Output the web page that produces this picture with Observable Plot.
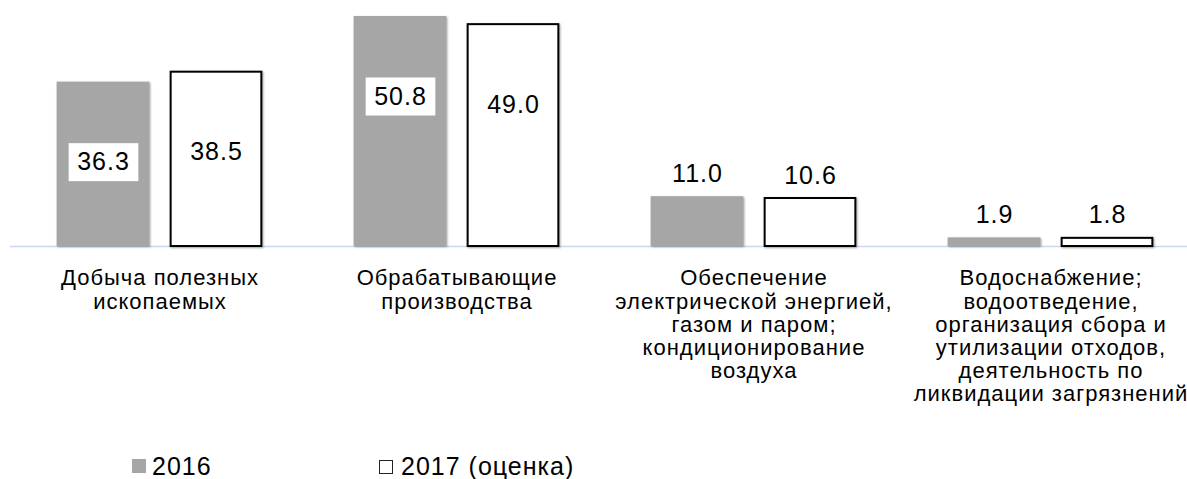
<!DOCTYPE html>
<html><head><meta charset="utf-8">
<script src="https://cdn.jsdelivr.net/npm/d3@7"></script>
<script src="https://cdn.jsdelivr.net/npm/@observablehq/plot@0.6"></script>
<style>
html,body{margin:0;padding:0;background:#fff;overflow:hidden;}
#wrap{position:relative;width:1187px;height:479px;font-family:"Liberation Sans",Arial,sans-serif;}
#wrap svg text{letter-spacing:1px;}
.legend{position:absolute;left:0;top:447px;width:1187px;height:32px;}
.legend .sw{position:absolute;width:14px;height:14px;box-sizing:border-box;}
.legend .lb{position:absolute;font-size:25px;line-height:25px;color:#000;white-space:nowrap;letter-spacing:1px;}
</style></head><body><div id="wrap"></div>
<script>
const categories = [
  "Добыча полезных\nископаемых",
  "Обрабатывающие\nпроизводства",
  "Обеспечение\nэлектрической энергией,\nгазом и паром;\nкондиционирование\nвоздуха",
  "Водоснабжение;\nводоотведение,\nорганизация сбора и\nутилизации отходов,\nдеятельность по\nликвидации загрязнений"
];
const seriesNames = ["2016", "2017 (оценка)"];
const values2016 = [36.3, 50.8, 11.0, 1.9];
const values2017 = [38.5, 49.0, 10.6, 1.8];

const rows = categories.flatMap((c, i) => [
  {category: c, series: seriesNames[0], value: values2016[i]},
  {category: c, series: seriesNames[1], value: values2017[i]}
]);

// layout (styles only)
const W = 1187, H = 447;
const xRange = [10.4, 1199.6];
const bw = (xRange[1] - xRange[0]) / categories.length;
const barW = 93, gap = 20;
const off = (bw - (2 * barW + gap)) / 2;
const shift = (barW + gap) / 2;
const gray = "#a6a6a6";
const fmt = d3.format(".1f");
const big = d => d.value > 20;

function labels(series, dx) {
  const s = d => d.series === series;
  return [
    Plot.text(rows, {filter: d => s(d) && big(d), x: "category", y: "value", text: d => fmt(d.value),
      dx, dy: 80, fontSize: 25, fill: "#000", lineAnchor: "middle"}),
    Plot.text(rows, {filter: d => s(d) && !big(d), x: "category", y: "value", text: d => fmt(d.value),
      dx, dy: -23, fontSize: 25, fill: "#000", lineAnchor: "middle"})
  ];
}

const plot = Plot.plot({
  width: W, height: H,
  marginTop: 16, marginBottom: H - 246, marginLeft: 10, marginRight: 0,
  style: {fontFamily: "'Liberation Sans', Arial, sans-serif", fontSize: "22px", background: "#fff", overflow: "visible"},
  x: {domain: categories, range: xRange, padding: 0, axis: null},
  y: {domain: [0, d3.max(rows, d => d.value)], axis: null},
  marks: [
    Plot.ruleY([0], {stroke: "#c6d9f1", strokeWidth: 1.5}),
    Plot.barY(rows, {filter: d => d.series === seriesNames[0], x: "category", y: "value",
      fill: gray, insetLeft: off, insetRight: bw - off - barW}),
    Plot.barY(rows, {filter: d => d.series === seriesNames[1], x: "category", y: "value",
      fill: "#fff", stroke: "#000", strokeWidth: 2,
      insetLeft: off + barW + gap + 1, insetRight: off + 1}),
    ...labels(seriesNames[0], -shift),
    ...labels(seriesNames[1], shift),
    Plot.text(categories, {x: d => d, y: () => 0, text: d => d, dy: 22.4, lineAnchor: "top",
      fontSize: 22, lineHeight: 23.2 / 22, fill: "#000"})
  ]
});
const wrap = document.getElementById("wrap");
wrap.appendChild(plot);

// subtle shadow on bars
new Set(Array.from(plot.querySelectorAll("rect")).map(r => r.parentNode)).forEach(g => {
  if (g !== plot) g.style.filter = "drop-shadow(1px 1.5px 1px rgba(0,0,0,0.35))";
});

// white boxes behind value labels
Array.from(plot.querySelectorAll("text")).filter(t => /^\d+\.\d$/.test(t.textContent.trim())).forEach(t => {
  const b = t.getBBox();
  const cx = b.x + b.width / 2, cy = b.y + b.height / 2 + 1;
  const r = document.createElementNS("http://www.w3.org/2000/svg", "rect");
  r.setAttribute("x", cx - b.width / 2 - 8.5);
  r.setAttribute("y", cy - 19);
  r.setAttribute("width", b.width + 17);
  r.setAttribute("height", 38);
  r.setAttribute("fill", "#fff");
  if (t.getAttribute("transform")) r.setAttribute("transform", t.getAttribute("transform"));
  t.parentNode.insertBefore(r, t);
});

// legend
const legend = document.createElement("div");
legend.className = "legend";
const items = [
  {name: seriesNames[0], sx: 132, sy: 12, tx: 152, style: `background:${gray};`},
  {name: seriesNames[1], sx: 379, sy: 13, tx: 401, style: "background:#fff;border:1.5px solid #222;"}
];
items.forEach(it => {
  const sw = document.createElement("div");
  sw.className = "sw";
  sw.style.cssText = `left:${it.sx}px;top:${it.sy}px;` + it.style;
  const lb = document.createElement("div");
  lb.className = "lb";
  lb.style.cssText = `left:${it.tx}px;top:7px;`;
  lb.textContent = it.name;
  legend.appendChild(sw);
  legend.appendChild(lb);
});
wrap.appendChild(legend);
</script></body></html>
